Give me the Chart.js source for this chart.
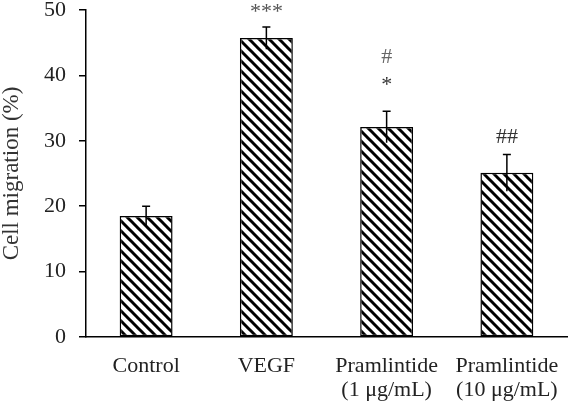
<!DOCTYPE html>
<html>
<head>
<meta charset="utf-8">
<script src="https://cdn.jsdelivr.net/npm/chart.js@4.4.0/dist/chart.umd.min.js"></script>
<style>
  html, body { margin: 0; padding: 0; background: #fff; }
  #wrap { width: 568px; height: 406px; position: relative; }
</style>
</head>
<body>
<div id="wrap"><canvas id="c" width="568" height="406"></canvas></div>
<script>
const categories = [["Control"], ["VEGF"], ["Pramlintide", "(1 μg/mL)"], ["Pramlintide", "(10 μg/mL)"]];
const migration = [18.5, 45.7, 32.1, 25.1];
const errors = [1.5, 1.7, 2.4, 2.8];
const sigLine1 = ["", "***", "*", "##"];
const sigLine2 = ["", "", "#", ""];
const yTicks = [0, 10, 20, 30, 40, 50];

const FONT = "'Liberation Serif', 'Times New Roman', serif";

function hatch() {
  const s = 10;
  const p = document.createElement('canvas');
  p.width = s; p.height = s;
  const g = p.getContext('2d');
  g.fillStyle = '#fff';
  g.fillRect(0, 0, s, s);
  g.strokeStyle = '#000';
  g.lineWidth = 3;
  g.lineCap = 'square';
  for (const o of [-s, 0, s]) {
    g.beginPath();
    g.moveTo(o, 0);
    g.lineTo(o + s, s);
    g.stroke();
  }
  return document.getElementById('c').getContext('2d').createPattern(p, 'repeat');
}

const errPlugin = {
  id: 'errAndSig',
  afterDatasetsDraw(chart) {
    const ctx = chart.ctx;
    const y = chart.scales.y;
    const meta = chart.getDatasetMeta(0);
    ctx.save();
    meta.data.forEach((bar, i) => {
      const x = bar.x;
      const top = y.getPixelForValue(migration[i] + errors[i]);
      const bot = y.getPixelForValue(migration[i] - errors[i]);
      ctx.strokeStyle = '#000';
      ctx.lineWidth = 1.5;
      ctx.beginPath();
      ctx.moveTo(x, top); ctx.lineTo(x, bot);
      ctx.moveTo(x - 4, top); ctx.lineTo(x + 4, top);
      ctx.stroke();
      ctx.font = "22px " + FONT;
      ctx.textAlign = 'center';
      ctx.textBaseline = 'middle';
      if (sigLine1[i]) {
        const isStar = sigLine1[i].indexOf('*') >= 0;
        ctx.fillStyle = isStar && !sigLine2[i] ? '#555' : '#333';
        const off = isStar ? (sigLine2[i] ? 31 : 20) : 17;
        ctx.fillText(sigLine1[i], x, top - off + (isStar ? 5 : 0));
      }
      if (sigLine2[i]) {
        ctx.fillStyle = '#666';
        ctx.fillText(sigLine2[i], x, top - 54);
      }
    });
    ctx.restore();
  }
};

new Chart(document.getElementById('c'), {
  type: 'bar',
  data: {
    labels: categories,
    datasets: [{
      data: migration,
      backgroundColor: hatch(),
      borderColor: '#000',
      borderWidth: 1.5,
      borderSkipped: false,
      barPercentage: 0.44,
      categoryPercentage: 1.0
    }]
  },
  options: {
    responsive: false,
    animation: false,
    layout: { padding: { top: 10, right: 1, left: 0, bottom: 0 } },
    plugins: { legend: { display: false }, tooltip: { enabled: false } },
    scales: {
      x: {
        grid: { display: false },
        border: { display: true, color: '#000', width: 1.5 },
        ticks: {
          color: '#222',
          font: { family: FONT, size: 22, lineHeight: 1.1 },
          padding: 9,
          maxRotation: 0,
          autoSkip: false
        },
        afterFit(s) { s.height = 69; s.paddingLeft = 0; s.paddingRight = 0; }
      },
      y: {
        min: 0, max: 50,
        afterBuildTicks(s) { s.ticks = yTicks.map(v => ({ value: v })); },
        grid: { display: true, drawOnChartArea: false, drawTicks: true, tickLength: 7, color: '#000', lineWidth: 1.5 },
        border: { display: true, color: '#000', width: 1.5 },
        ticks: {
          color: '#222',
          font: { family: FONT, size: 22 },
          padding: 13
        },
        title: {
          display: true,
          text: 'Cell migration (%)',
          color: '#333',
          font: { family: FONT, size: 23, lineHeight: 1.0 },
          padding: { top: 0, bottom: 0 }
        },
        afterFit(s) { s.width = 86; s.paddingTop = 0; s.paddingBottom = 0; }
      }
    }
  },
  plugins: [errPlugin]
});
</script>
</body>
</html>
